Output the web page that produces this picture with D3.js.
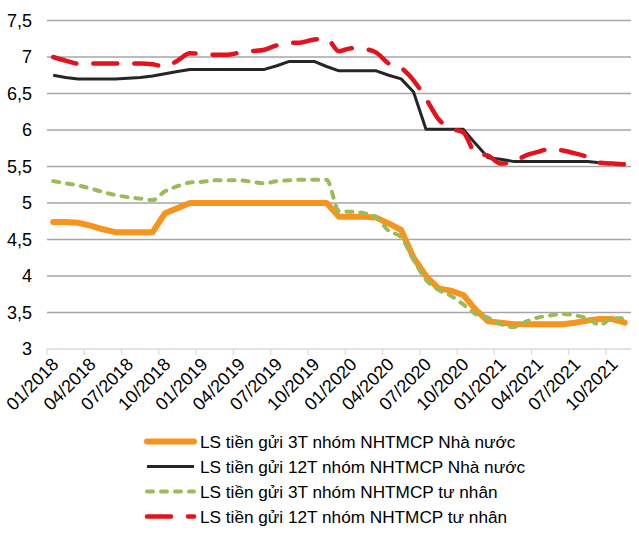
<!DOCTYPE html>
<html>
<head>
<meta charset="utf-8">
<script src="https://cdn.jsdelivr.net/npm/d3@7"></script>
<style>
  html, body { margin: 0; padding: 0; background: #ffffff; }
  svg { display: block; }
  text { font-family: Arial, "Liberation Sans", sans-serif; fill: #000; }
</style>
</head>
<body>
<svg id="chart" width="639" height="539"></svg>
<script>
const months = [
  "01/2018","02/2018","03/2018","04/2018","05/2018","06/2018","07/2018","08/2018","09/2018","10/2018","11/2018","12/2018",
  "01/2019","02/2019","03/2019","04/2019","05/2019","06/2019","07/2019","08/2019","09/2019","10/2019","11/2019","12/2019",
  "01/2020","02/2020","03/2020","04/2020","05/2020","06/2020","07/2020","08/2020","09/2020","10/2020","11/2020","12/2020",
  "01/2021","02/2021","03/2021","04/2021","05/2021","06/2021","07/2021","08/2021","09/2021","10/2021","11/2021"
];
const tickLabels = ["01/2018","04/2018","07/2018","10/2018","01/2019","04/2019","07/2019","10/2019",
                    "01/2020","04/2020","07/2020","10/2020","01/2021","04/2021","07/2021","10/2021"];
const yTicks = [3, 3.5, 4, 4.5, 5, 5.5, 6, 6.5, 7, 7.5];

// LS tiền gửi 3T nhóm NHTMCP Nhà nước
const state3T = [4.74,4.74,4.73,4.69,4.64,4.60,4.60,4.60,4.60,4.86,4.93,5.00,
                 5.00,5.00,5.00,5.00,5.00,5.00,5.00,5.00,5.00,5.00,5.00,4.81,
                 4.81,4.81,4.80,4.72,4.63,4.25,4.00,3.83,3.80,3.74,3.54,3.38,
                 3.36,3.34,3.34,3.34,3.34,3.34,3.36,3.39,3.41,3.41,3.36];
// LS tiền gửi 12T nhóm NHTMCP Nhà nước
const state12T = [6.75,6.72,6.70,6.70,6.70,6.70,6.71,6.72,6.74,6.77,6.80,6.83,
                  6.83,6.83,6.83,6.83,6.83,6.83,6.88,6.94,6.94,6.94,6.87,6.81,
                  6.81,6.81,6.81,6.75,6.70,6.52,6.01,6.01,6.01,6.01,5.81,5.62,
                  5.60,5.57,5.57,5.57,5.57,5.57,5.57,5.57,5.55,5.54,5.54];
// LS tiền gửi 3T nhóm NHTMCP tư nhân
const private3T = [5.30,5.27,5.24,5.20,5.15,5.11,5.08,5.06,5.04,5.16,5.23,5.28,
                   5.29,5.31,5.31,5.31,5.29,5.27,5.30,5.31,5.32,5.32,5.32,4.89,
                   4.88,4.86,4.80,4.62,4.53,4.22,3.95,3.81,3.73,3.61,3.48,3.43,
                   3.34,3.30,3.37,3.43,3.46,3.48,3.46,3.42,3.33,3.42,3.42];
// LS tiền gửi 12T nhóm NHTMCP tư nhân
const private12T = [7.00,6.95,6.91,6.91,6.91,6.91,6.91,6.91,6.90,6.87,6.95,7.05,
                    7.04,7.03,7.03,7.06,7.08,7.10,7.16,7.19,7.20,7.24,7.25,7.08,
                    7.12,7.11,7.06,6.91,6.85,6.68,6.43,6.15,6.02,5.97,5.68,5.65,
                    5.54,5.56,5.65,5.70,5.74,5.72,5.68,5.63,5.55,5.54,5.53];

const seriesNames = [
  "LS tiền gửi 3T nhóm NHTMCP Nhà nước",
  "LS tiền gửi 12T nhóm NHTMCP Nhà nước",
  "LS tiền gửi 3T nhóm NHTMCP tư nhân",
  "LS tiền gửi 12T nhóm NHTMCP tư nhân"
];

const series = [
  { name: seriesNames[0], values: state3T,   color: "#F7941D", width: 6,   dash: null,    cap: "round", curve: d3.curveLinear },
  { name: seriesNames[1], values: state12T,  color: "#262626", width: 3,   dash: null,    cap: "butt",  curve: d3.curveLinear },
  { name: seriesNames[2], values: private3T, color: "#9BBB59", width: 4,   dash: "6,8",   cap: "round", curve: d3.curveMonotoneX },
  { name: seriesNames[3], values: private12T,color: "#E3121C", width: 4.5, dash: "24,17", cap: "round", curve: d3.curveMonotoneX }
];

const svg = d3.select("#chart");
const plotLeft = 47, plotRight = 631, plotTop = 20.5, plotBottom = 349;

const x = d3.scalePoint().domain(months).range([plotLeft, plotRight]).padding(0.5);
const y = d3.scaleLinear().domain([3, 7.5]).range([plotBottom, plotTop]);
const step = x.step();

// gridlines
svg.append("g").selectAll("line").data(yTicks.filter(v => v > 3)).join("line")
  .attr("x1", plotLeft).attr("x2", plotRight)
  .attr("y1", d => y(d)).attr("y2", d => y(d))
  .attr("stroke", "#A6A6A6").attr("stroke-width", 1.5);

// y-axis labels
svg.append("g").selectAll("text").data(yTicks).join("text")
  .attr("x", 32).attr("y", d => y(d)).attr("dy", "0.35em")
  .attr("text-anchor", "end").attr("font-size", 18)
  .text(d => String(d).replace(".", ","));

// x axis line and ticks
svg.append("line").attr("x1", plotLeft).attr("x2", plotRight)
  .attr("y1", plotBottom).attr("y2", plotBottom)
  .attr("stroke", "#D9D9D9").attr("stroke-width", 1.5);
svg.append("g").selectAll("line").data(tickLabels).join("line")
  .attr("x1", d => x(d) - step / 2).attr("x2", d => x(d) - step / 2)
  .attr("y1", plotBottom).attr("y2", plotBottom + 6)
  .attr("stroke", "#D9D9D9").attr("stroke-width", 1.2);

// x labels
svg.append("g").selectAll("text").data(tickLabels).join("text")
  .attr("transform", d => `translate(${x(d) + 2},${plotBottom + 12}) rotate(-45)`)
  .attr("text-anchor", "end").attr("dy", "0.35em").attr("font-size", 18)
  .text(d => d);

// lines
series.forEach(s => {
  const line = d3.line().x((d, i) => x(months[i])).y(d => y(d)).curve(s.curve);
  svg.append("path").datum(s.values)
    .attr("d", line)
    .attr("fill", "none")
    .attr("stroke", s.color)
    .attr("stroke-width", s.width)
    .attr("stroke-linejoin", "round")
    .attr("stroke-linecap", s.cap)
    .attr("stroke-dasharray", s.dash);
});

// legend
const legendY0 = 441.5, legendDy = 25;
const lg = svg.append("g");
series.forEach((s, i) => {
  const yy = legendY0 + i * legendDy;
  lg.append("line").attr("x1", 147).attr("x2", 194).attr("y1", yy).attr("y2", yy)
    .attr("stroke", s.color).attr("stroke-width", s.width)
    .attr("stroke-linecap", s.cap).attr("stroke-dasharray", s.dash);
  lg.append("text").attr("x", 200).attr("y", yy).attr("dy", "0.35em")
    .attr("font-size", 17.2).text(s.name);
});
</script>
</body>
</html>
